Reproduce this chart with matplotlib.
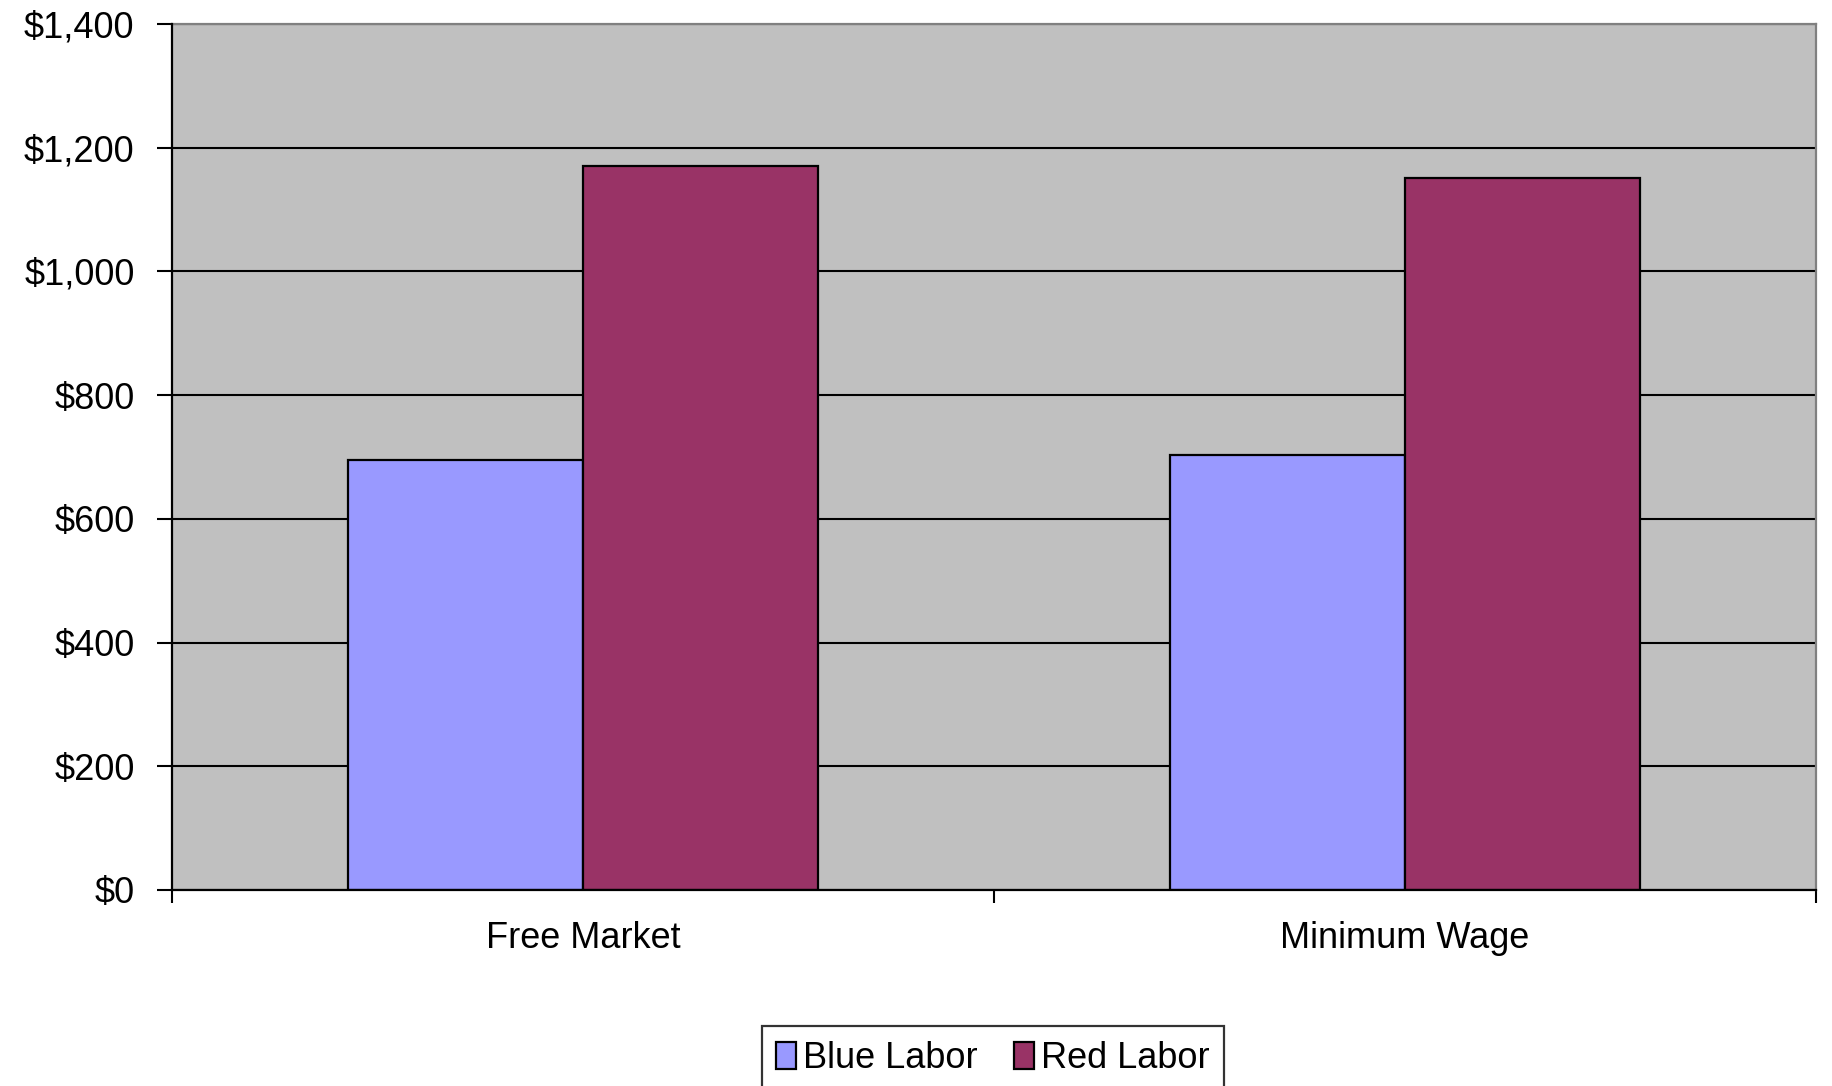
import numpy as np
import matplotlib
matplotlib.use('Agg')
import matplotlib.pyplot as plt
from matplotlib.ticker import FuncFormatter

plt.rcParams['font.family'] = ['Liberation Sans', 'DejaVu Sans']

# data
categories = ['Free Market', 'Minimum Wage']
blue_labor = [695, 704]
red_labor = [1170, 1151]
series_names = ['Blue Labor', 'Red Labor']
y_ticks = [0, 200, 400, 600, 800, 1000, 1200, 1400]

blue_color = '#9999FF'
red_color = '#993366'

fig = plt.figure(figsize=(18.32, 10.86), dpi=100)
ax = fig.add_axes([0.0939, 0.1805, 0.8974, 0.7974])
ax.set_facecolor('#C0C0C0')

x = np.arange(len(categories))
w = 2 / 7
ax.bar(x - w / 2, blue_labor, w, color=blue_color, edgecolor='black', linewidth=1.6,
       label=series_names[0], zorder=3)
ax.bar(x + w / 2, red_labor, w, color=red_color, edgecolor='black', linewidth=1.6,
       label=series_names[1], zorder=3)

ax.set_xlim(-0.5, len(categories) - 0.5)
ax.set_ylim(0, 1400)
ax.set_yticks(y_ticks)
ax.yaxis.set_major_formatter(FuncFormatter(lambda v, p: '${:,.0f}'.format(v)))
ax.grid(axis='y', color='black', linewidth=1.5, zorder=1)

# category boundaries as tick marks, labels at category centres
ax.set_xticks(np.arange(len(categories) + 1) - 0.5)
ax.set_xticklabels([])
ax.set_xticks(x, minor=True)
ax.set_xticklabels(categories, minor=True)
ax.tick_params(axis='x', which='major', direction='out', length=9, width=1.5, color='black')
ax.tick_params(axis='x', which='minor', length=0, pad=22, labelsize=26)
ax.tick_params(axis='y', direction='out', length=11, width=1.5, pad=16, labelsize=26)

for s in ['left', 'bottom']:
    ax.spines[s].set_color('black')
    ax.spines[s].set_linewidth(1.6)
for s in ['top', 'right']:
    ax.spines[s].set_color('#808080')
    ax.spines[s].set_linewidth(1.6)
ax.spines['left'].set_zorder(4)
ax.spines['bottom'].set_zorder(4)

leg = fig.legend(loc='lower center', bbox_to_anchor=(0.542, -0.004), ncol=2, fontsize=26,
                 frameon=True, fancybox=False, edgecolor='black', handlelength=0.55,
                 handleheight=0.75, handletextpad=0.2, columnspacing=1.0,
                 borderpad=0.4, borderaxespad=0.0)
leg.get_frame().set_linewidth(1.6)

fig.savefig('out.png', dpi=100, facecolor='white')
